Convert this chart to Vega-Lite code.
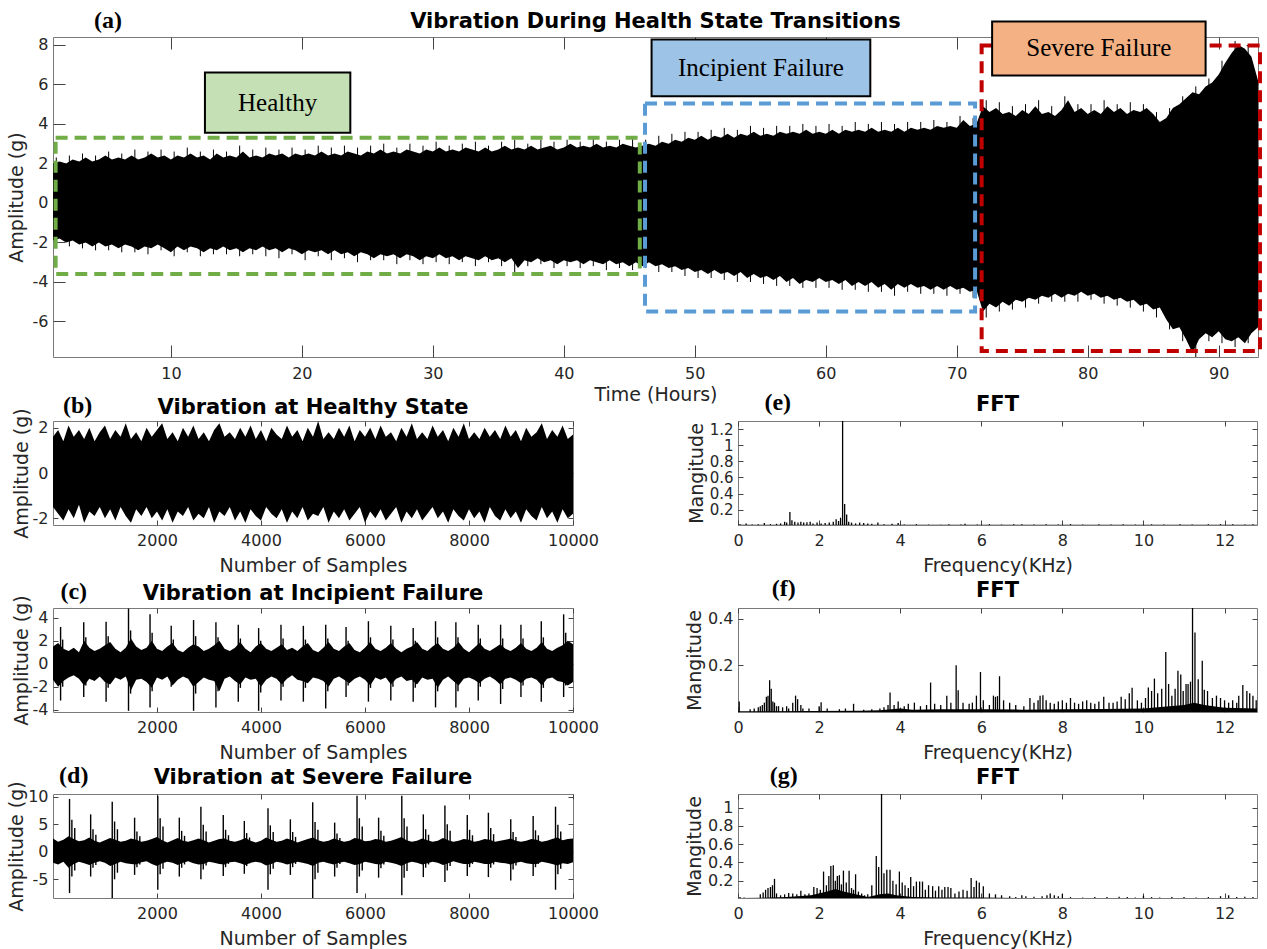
{
"$schema": "https://vega.github.io/schema/vega-lite/v6.json",
"background": "white",
"padding": {"left": 6, "top": 8, "right": 5, "bottom": 5},
"config": {
  "font": "DejaVu Sans",
  "view": {"stroke": "#7a7a7a", "strokeWidth": 1},
  "axis": {"domain": false, "grid": false, "tickColor": "#444444", "tickWidth": 1, "tickSize": -5, "labelPadding": 10, "labelFont": "DejaVu Sans", "labelFontSize": 16, "labelColor": "#262626", "titleFont": "DejaVu Sans", "titleFontSize": 19, "titleFontWeight": "normal", "titleColor": "#262626", "labelFlush": false, "labelOverlap": false, "titlePadding": 6},
  "title": {"font": "DejaVu Sans", "fontSize": 21, "fontWeight": "bold", "color": "#000000", "anchor": "middle", "frame": "group", "offset": -24}
},
"datasets": {
  "top": [
    {"t":1.0,"hi":2.0,"lo":-1.9},{"t":1.5,"hi":2.1,"lo":-1.8},{"t":2.0,"hi":2.0,"lo":-2.0},{"t":2.5,"hi":2.2,"lo":-1.9},{"t":3.0,"hi":2.1,"lo":-2.1},{"t":3.5,"hi":2.3,"lo":-2.0},{"t":4.0,"hi":2.1,"lo":-2.2},{"t":4.5,"hi":2.2,"lo":-2.0},{"t":5.0,"hi":2.4,"lo":-2.2},{"t":5.5,"hi":2.2,"lo":-2.1},
    {"t":6.0,"hi":2.3,"lo":-2.3},{"t":6.5,"hi":2.2,"lo":-2.1},{"t":7.0,"hi":2.4,"lo":-2.2},{"t":7.5,"hi":2.2,"lo":-2.4},{"t":8.0,"hi":2.3,"lo":-2.2},{"t":8.5,"hi":2.5,"lo":-2.3},{"t":9.0,"hi":2.3,"lo":-2.1},{"t":9.5,"hi":2.4,"lo":-2.3},{"t":10.0,"hi":2.2,"lo":-2.5},{"t":10.5,"hi":2.4,"lo":-2.2},
    {"t":11.0,"hi":2.3,"lo":-2.4},{"t":11.5,"hi":2.5,"lo":-2.2},{"t":12.0,"hi":2.3,"lo":-2.3},{"t":12.5,"hi":2.4,"lo":-2.5},{"t":13.0,"hi":2.2,"lo":-2.3},{"t":13.5,"hi":2.5,"lo":-2.4},{"t":14.0,"hi":2.3,"lo":-2.2},{"t":14.5,"hi":2.4,"lo":-2.4},{"t":15.0,"hi":2.3,"lo":-2.3},{"t":15.5,"hi":2.6,"lo":-2.5},
    {"t":16.0,"hi":2.3,"lo":-2.3},{"t":16.5,"hi":2.4,"lo":-2.4},{"t":17.0,"hi":2.3,"lo":-2.2},{"t":17.5,"hi":2.5,"lo":-2.4},{"t":18.0,"hi":2.4,"lo":-2.3},{"t":18.5,"hi":2.5,"lo":-2.5},{"t":19.0,"hi":2.3,"lo":-2.3},{"t":19.5,"hi":2.5,"lo":-2.4},{"t":20.0,"hi":2.4,"lo":-2.6},{"t":20.5,"hi":2.5,"lo":-2.4},
    {"t":21.0,"hi":2.4,"lo":-2.5},{"t":21.5,"hi":2.6,"lo":-2.4},{"t":22.0,"hi":2.4,"lo":-2.6},{"t":22.5,"hi":2.5,"lo":-2.4},{"t":23.0,"hi":2.4,"lo":-2.6},{"t":23.5,"hi":2.6,"lo":-2.5},{"t":24.0,"hi":2.5,"lo":-2.7},{"t":24.5,"hi":2.4,"lo":-2.5},{"t":25.0,"hi":2.6,"lo":-2.6},{"t":25.5,"hi":2.5,"lo":-2.8},
    {"t":26.0,"hi":2.7,"lo":-2.6},{"t":26.5,"hi":2.5,"lo":-2.7},{"t":27.0,"hi":2.6,"lo":-2.6},{"t":27.5,"hi":2.5,"lo":-2.8},{"t":28.0,"hi":2.7,"lo":-2.6},{"t":28.5,"hi":2.6,"lo":-2.7},{"t":29.0,"hi":2.5,"lo":-2.9},{"t":29.5,"hi":2.7,"lo":-2.7},{"t":30.0,"hi":2.6,"lo":-2.8},{"t":30.5,"hi":2.8,"lo":-2.6},
    {"t":31.0,"hi":2.6,"lo":-2.8},{"t":31.5,"hi":2.7,"lo":-2.7},{"t":32.0,"hi":2.6,"lo":-2.9},{"t":32.5,"hi":2.8,"lo":-2.7},{"t":33.0,"hi":2.7,"lo":-2.8},{"t":33.5,"hi":2.6,"lo":-2.9},{"t":34.0,"hi":2.8,"lo":-2.7},{"t":34.5,"hi":2.6,"lo":-2.9},{"t":35.0,"hi":2.7,"lo":-2.8},{"t":35.5,"hi":2.9,"lo":-3.0},
    {"t":36.0,"hi":2.7,"lo":-2.8},{"t":36.5,"hi":2.8,"lo":-3.3},{"t":37.0,"hi":2.7,"lo":-2.9},{"t":37.5,"hi":2.9,"lo":-3.0},{"t":38.0,"hi":2.7,"lo":-2.8},{"t":38.5,"hi":2.8,"lo":-3.0},{"t":39.0,"hi":2.9,"lo":-2.9},{"t":39.5,"hi":2.7,"lo":-3.1},{"t":40.0,"hi":2.8,"lo":-2.9},{"t":40.5,"hi":3.0,"lo":-3.0},
    {"t":41.0,"hi":2.8,"lo":-2.9},{"t":41.5,"hi":2.9,"lo":-3.1},{"t":42.0,"hi":2.8,"lo":-2.9},{"t":42.5,"hi":3.0,"lo":-3.0},{"t":43.0,"hi":2.8,"lo":-3.1},{"t":43.5,"hi":2.9,"lo":-2.9},{"t":44.0,"hi":2.8,"lo":-3.1},{"t":44.5,"hi":3.0,"lo":-3.0},{"t":45.0,"hi":2.9,"lo":-3.2},{"t":45.5,"hi":2.8,"lo":-3.0},
    {"t":46.0,"hi":2.9,"lo":-3.2},{"t":46.5,"hi":3.0,"lo":-3.0},{"t":47.0,"hi":2.9,"lo":-3.2},{"t":47.5,"hi":3.1,"lo":-3.1},{"t":48.0,"hi":3.0,"lo":-3.3},{"t":48.5,"hi":3.2,"lo":-3.2},{"t":49.0,"hi":3.1,"lo":-3.4},{"t":49.5,"hi":3.3,"lo":-3.3},{"t":50.0,"hi":3.2,"lo":-3.5},{"t":50.5,"hi":3.4,"lo":-3.4},
    {"t":51.0,"hi":3.2,"lo":-3.6},{"t":51.5,"hi":3.4,"lo":-3.4},{"t":52.0,"hi":3.3,"lo":-3.6},{"t":52.5,"hi":3.5,"lo":-3.5},{"t":53.0,"hi":3.3,"lo":-3.7},{"t":53.5,"hi":3.5,"lo":-3.5},{"t":54.0,"hi":3.4,"lo":-3.8},{"t":54.5,"hi":3.6,"lo":-3.6},{"t":55.0,"hi":3.4,"lo":-3.8},{"t":55.5,"hi":3.5,"lo":-3.7},
    {"t":56.0,"hi":3.4,"lo":-3.9},{"t":56.5,"hi":3.6,"lo":-3.7},{"t":57.0,"hi":3.5,"lo":-4.0},{"t":57.5,"hi":3.6,"lo":-3.8},{"t":58.0,"hi":3.5,"lo":-4.1},{"t":58.5,"hi":3.7,"lo":-3.9},{"t":59.0,"hi":3.5,"lo":-4.0},{"t":59.5,"hi":3.6,"lo":-3.8},{"t":60.0,"hi":3.5,"lo":-4.0},{"t":60.5,"hi":3.7,"lo":-3.9},
    {"t":61.0,"hi":3.5,"lo":-4.1},{"t":61.5,"hi":3.7,"lo":-3.9},{"t":62.0,"hi":3.6,"lo":-4.2},{"t":62.5,"hi":3.7,"lo":-4.0},{"t":63.0,"hi":3.6,"lo":-4.2},{"t":63.5,"hi":3.8,"lo":-4.0},{"t":64.0,"hi":3.6,"lo":-4.3},{"t":64.5,"hi":3.7,"lo":-4.1},{"t":65.0,"hi":3.6,"lo":-4.4},{"t":65.5,"hi":3.8,"lo":-4.1},
    {"t":66.0,"hi":3.6,"lo":-4.3},{"t":66.5,"hi":3.8,"lo":-4.1},{"t":67.0,"hi":3.7,"lo":-4.3},{"t":67.5,"hi":3.8,"lo":-4.2},{"t":68.0,"hi":3.7,"lo":-4.4},{"t":68.5,"hi":3.9,"lo":-4.2},{"t":69.0,"hi":3.8,"lo":-4.4},{"t":69.5,"hi":3.9,"lo":-4.2},{"t":70.0,"hi":3.8,"lo":-4.4},{"t":70.5,"hi":4.2,"lo":-4.3},
    {"t":71.0,"hi":3.9,"lo":-4.5},{"t":71.5,"hi":4.0,"lo":-4.4},{"t":72.0,"hi":4.9,"lo":-5.5},{"t":72.5,"hi":4.6,"lo":-5.1},{"t":73.0,"hi":4.8,"lo":-5.3},{"t":73.5,"hi":4.5,"lo":-5.0},{"t":74.0,"hi":4.6,"lo":-5.2},{"t":74.5,"hi":4.4,"lo":-4.9},{"t":75.0,"hi":4.7,"lo":-5.0},{"t":75.5,"hi":4.5,"lo":-4.8},
    {"t":76.0,"hi":4.9,"lo":-4.9},{"t":76.5,"hi":4.5,"lo":-4.7},{"t":77.0,"hi":4.6,"lo":-4.8},{"t":77.5,"hi":4.4,"lo":-4.6},{"t":78.0,"hi":4.7,"lo":-4.8},{"t":78.5,"hi":5.2,"lo":-4.6},{"t":79.0,"hi":4.6,"lo":-4.7},{"t":79.5,"hi":4.8,"lo":-4.5},{"t":80.0,"hi":4.5,"lo":-4.7},{"t":80.5,"hi":4.7,"lo":-4.6},
    {"t":81.0,"hi":4.5,"lo":-4.8},{"t":81.5,"hi":4.9,"lo":-4.7},{"t":82.0,"hi":4.6,"lo":-4.9},{"t":82.5,"hi":4.8,"lo":-4.8},{"t":83.0,"hi":4.5,"lo":-5.0},{"t":83.5,"hi":4.7,"lo":-4.9},{"t":84.0,"hi":4.6,"lo":-5.2},{"t":84.5,"hi":4.8,"lo":-5.1},{"t":85.0,"hi":4.5,"lo":-5.4},{"t":85.5,"hi":4.1,"lo":-5.3},
    {"t":86.0,"hi":4.3,"lo":-5.9},{"t":86.5,"hi":4.8,"lo":-6.4},{"t":87.0,"hi":5.0,"lo":-6.3},{"t":87.5,"hi":5.3,"lo":-6.9},{"t":88.0,"hi":5.6,"lo":-7.6},{"t":88.5,"hi":5.5,"lo":-6.9},{"t":89.0,"hi":5.9,"lo":-6.6},{"t":89.5,"hi":6.1,"lo":-6.8},{"t":90.0,"hi":6.5,"lo":-6.5},{"t":90.5,"hi":7.1,"lo":-6.9},
    {"t":91.0,"hi":7.6,"lo":-7.0},{"t":91.5,"hi":8.0,"lo":-6.8},{"t":92.0,"hi":7.8,"lo":-7.1},{"t":92.5,"hi":7.4,"lo":-6.6},{"t":93.0,"hi":6.2,"lo":-6.3}
  ],
  "topSpk": [
    {"t":1.25,"hi":2.3,"lo":-2.1},{"t":2.25,"hi":2.4,"lo":-2.2},{"t":3.25,"hi":2.5,"lo":-2.3},{"t":4.25,"hi":2.4,"lo":-2.4},{"t":5.25,"hi":2.6,"lo":-2.4},{"t":6.25,"hi":2.5,"lo":-2.5},{"t":7.25,"hi":2.7,"lo":-2.5},{"t":8.25,"hi":2.6,"lo":-2.6},{"t":9.25,"hi":2.7,"lo":-2.4},{"t":10.25,"hi":2.6,"lo":-2.7},
    {"t":11.25,"hi":2.8,"lo":-2.5},{"t":12.25,"hi":2.6,"lo":-2.7},{"t":13.25,"hi":2.7,"lo":-2.6},{"t":14.25,"hi":2.6,"lo":-2.6},{"t":15.25,"hi":2.9,"lo":-2.7},{"t":16.25,"hi":2.7,"lo":-2.6},{"t":17.25,"hi":2.8,"lo":-2.7},{"t":18.25,"hi":2.7,"lo":-2.8},{"t":19.25,"hi":2.8,"lo":-2.6},{"t":20.25,"hi":2.7,"lo":-2.9},
    {"t":21.25,"hi":2.9,"lo":-2.7},{"t":22.25,"hi":2.8,"lo":-2.9},{"t":23.25,"hi":2.9,"lo":-2.8},{"t":24.25,"hi":2.8,"lo":-3.0},{"t":25.25,"hi":2.9,"lo":-2.9},{"t":26.25,"hi":3.0,"lo":-2.9},{"t":27.25,"hi":2.8,"lo":-3.1},{"t":28.25,"hi":3.0,"lo":-2.9},{"t":29.25,"hi":2.9,"lo":-3.1},{"t":30.25,"hi":3.1,"lo":-3.0},
    {"t":31.25,"hi":2.9,"lo":-3.1},{"t":32.25,"hi":3.0,"lo":-3.0},{"t":33.25,"hi":3.1,"lo":-3.2},{"t":34.25,"hi":2.9,"lo":-3.0},{"t":35.25,"hi":3.1,"lo":-3.2},{"t":36.25,"hi":3.2,"lo":-3.5},{"t":37.25,"hi":3.0,"lo":-3.2},{"t":38.25,"hi":3.2,"lo":-3.1},{"t":39.25,"hi":3.1,"lo":-3.3},{"t":40.25,"hi":3.2,"lo":-3.2},
    {"t":41.25,"hi":3.1,"lo":-3.3},{"t":42.25,"hi":3.3,"lo":-3.2},{"t":43.25,"hi":3.1,"lo":-3.4},{"t":44.25,"hi":3.2,"lo":-3.3},{"t":45.25,"hi":3.3,"lo":-3.4},{"t":46.25,"hi":3.2,"lo":-3.3},{"t":47.25,"hi":3.4,"lo":-3.5},{"t":48.25,"hi":3.5,"lo":-3.5},{"t":49.25,"hi":3.6,"lo":-3.7},{"t":50.25,"hi":3.6,"lo":-3.8},
    {"t":51.25,"hi":3.7,"lo":-3.8},{"t":52.25,"hi":3.8,"lo":-3.9},{"t":53.25,"hi":3.7,"lo":-4.0},{"t":54.25,"hi":3.9,"lo":-4.0},{"t":55.25,"hi":3.8,"lo":-4.1},{"t":56.25,"hi":3.9,"lo":-4.2},{"t":57.25,"hi":3.9,"lo":-4.2},{"t":58.25,"hi":4.0,"lo":-4.3},{"t":59.25,"hi":3.9,"lo":-4.3},{"t":60.25,"hi":4.0,"lo":-4.3},
    {"t":61.25,"hi":3.9,"lo":-4.4},{"t":62.25,"hi":4.1,"lo":-4.4},{"t":63.25,"hi":4.0,"lo":-4.5},{"t":64.25,"hi":4.1,"lo":-4.5},{"t":65.25,"hi":4.0,"lo":-4.7},{"t":66.25,"hi":4.1,"lo":-4.5},{"t":67.25,"hi":4.1,"lo":-4.6},{"t":68.25,"hi":4.2,"lo":-4.6},{"t":69.25,"hi":4.1,"lo":-4.7},{"t":70.25,"hi":4.4,"lo":-4.6},
    {"t":71.25,"hi":4.3,"lo":-4.8},{"t":72.25,"hi":5.2,"lo":-5.8},{"t":73.25,"hi":5.1,"lo":-5.5},{"t":74.25,"hi":4.9,"lo":-5.4},{"t":75.25,"hi":5.0,"lo":-5.3},{"t":76.25,"hi":5.2,"lo":-5.1},{"t":77.25,"hi":4.9,"lo":-5.0},{"t":78.25,"hi":5.4,"lo":-5.0},{"t":79.25,"hi":5.0,"lo":-5.0},{"t":80.25,"hi":5.0,"lo":-4.9},
    {"t":81.25,"hi":5.2,"lo":-5.1},{"t":82.25,"hi":5.0,"lo":-5.2},{"t":83.25,"hi":5.1,"lo":-5.3},{"t":84.25,"hi":5.0,"lo":-5.5},{"t":85.25,"hi":4.6,"lo":-5.8},{"t":86.25,"hi":4.8,"lo":-6.4},{"t":87.25,"hi":5.4,"lo":-7.0},{"t":88.25,"hi":5.9,"lo":-7.8},{"t":89.25,"hi":6.3,"lo":-7.0},{"t":90.25,"hi":7.2,"lo":-7.1},
    {"t":91.25,"hi":8.2,"lo":-7.3},{"t":92.25,"hi":8.0,"lo":-7.1}
  ],
  "regions": [
    {"state":"Healthy","t0":1.2,"t1":45.8,"a0":-3.6,"a1":3.3},
    {"state":"Incipient Failure","t0":46.2,"t1":71.4,"a0":-5.5,"a1":5.03},
    {"state":"Severe Failure","t0":71.9,"t1":93.15,"a0":-7.5,"a1":7.97}
  ],
  "labels": [
    {"state":"Healthy","t0":12.6,"t1":23.7,"a0":3.55,"a1":6.6,"tc":18.15,"ac":5.08},
    {"state":"Incipient Failure","t0":46.7,"t1":63.4,"a0":5.4,"a1":8.27,"tc":55.05,"ac":6.84},
    {"state":"Severe Failure","t0":72.7,"t1":89.0,"a0":6.45,"a1":9.19,"tc":80.85,"ac":7.82}
  ],
  "sigB": [
    {"n":1,"hi":1.6,"lo":-1.5},{"n":100,"hi":1.9,"lo":-1.8},{"n":200,"hi":1.4,"lo":-2.1},{"n":300,"hi":2.1,"lo":-1.6},{"n":400,"hi":1.6,"lo":-2.0},{"n":500,"hi":1.9,"lo":-1.4},{"n":600,"hi":1.5,"lo":-2.2},{"n":700,"hi":2.0,"lo":-1.7},{"n":800,"hi":1.4,"lo":-1.9},{"n":900,"hi":1.8,"lo":-1.5},
    {"n":1000,"hi":2.1,"lo":-2.0},{"n":1100,"hi":1.5,"lo":-1.6},{"n":1200,"hi":1.9,"lo":-2.1},{"n":1300,"hi":1.6,"lo":-1.5},{"n":1400,"hi":2.2,"lo":-1.9},{"n":1500,"hi":1.5,"lo":-2.2},{"n":1600,"hi":1.8,"lo":-1.6},{"n":1700,"hi":1.4,"lo":-1.9},{"n":1800,"hi":2.0,"lo":-1.5},{"n":1900,"hi":1.6,"lo":-2.0},
    {"n":2000,"hi":1.9,"lo":-1.7},{"n":2100,"hi":2.2,"lo":-2.1},{"n":2200,"hi":1.5,"lo":-1.6},{"n":2300,"hi":1.8,"lo":-2.2},{"n":2400,"hi":1.4,"lo":-1.7},{"n":2500,"hi":2.0,"lo":-1.9},{"n":2600,"hi":1.6,"lo":-1.5},{"n":2700,"hi":2.1,"lo":-2.1},{"n":2800,"hi":1.5,"lo":-1.8},{"n":2900,"hi":1.8,"lo":-2.0},
    {"n":3000,"hi":1.4,"lo":-1.5},{"n":3100,"hi":1.9,"lo":-2.2},{"n":3200,"hi":2.2,"lo":-1.7},{"n":3300,"hi":1.6,"lo":-1.9},{"n":3400,"hi":1.8,"lo":-1.5},{"n":3500,"hi":1.5,"lo":-2.1},{"n":3600,"hi":2.0,"lo":-1.7},{"n":3700,"hi":1.6,"lo":-2.2},{"n":3800,"hi":2.1,"lo":-1.6},{"n":3900,"hi":1.5,"lo":-1.9},
    {"n":4000,"hi":1.9,"lo":-2.1},{"n":4100,"hi":1.4,"lo":-1.5},{"n":4200,"hi":2.0,"lo":-1.8},{"n":4300,"hi":1.7,"lo":-2.0},{"n":4400,"hi":1.5,"lo":-1.6},{"n":4500,"hi":2.1,"lo":-2.2},{"n":4600,"hi":1.6,"lo":-1.7},{"n":4700,"hi":1.9,"lo":-2.0},{"n":4800,"hi":1.4,"lo":-1.5},{"n":4900,"hi":2.0,"lo":-2.1},
    {"n":5000,"hi":1.6,"lo":-1.8},{"n":5100,"hi":2.3,"lo":-1.9},{"n":5200,"hi":1.5,"lo":-1.5},{"n":5300,"hi":1.8,"lo":-2.2},{"n":5400,"hi":1.5,"lo":-1.7},{"n":5500,"hi":2.0,"lo":-2.0},{"n":5600,"hi":1.6,"lo":-1.6},{"n":5700,"hi":2.1,"lo":-2.1},{"n":5800,"hi":1.4,"lo":-1.8},{"n":5900,"hi":1.9,"lo":-1.5},
    {"n":6000,"hi":1.6,"lo":-2.2},{"n":6100,"hi":2.0,"lo":-1.7},{"n":6200,"hi":1.5,"lo":-2.0},{"n":6300,"hi":2.1,"lo":-1.6},{"n":6400,"hi":1.6,"lo":-2.1},{"n":6500,"hi":1.8,"lo":-1.8},{"n":6600,"hi":1.4,"lo":-1.5},{"n":6700,"hi":2.0,"lo":-2.2},{"n":6800,"hi":1.6,"lo":-1.7},{"n":6900,"hi":2.2,"lo":-2.0},
    {"n":7000,"hi":1.5,"lo":-1.6},{"n":7100,"hi":1.8,"lo":-2.1},{"n":7200,"hi":1.5,"lo":-1.8},{"n":7300,"hi":2.1,"lo":-1.5},{"n":7400,"hi":1.6,"lo":-2.0},{"n":7500,"hi":1.9,"lo":-1.7},{"n":7600,"hi":1.4,"lo":-2.2},{"n":7700,"hi":2.0,"lo":-1.6},{"n":7800,"hi":1.6,"lo":-1.9},{"n":7900,"hi":2.2,"lo":-2.1},
    {"n":8000,"hi":1.5,"lo":-1.6},{"n":8100,"hi":1.8,"lo":-2.0},{"n":8200,"hi":1.5,"lo":-1.7},{"n":8300,"hi":2.0,"lo":-2.2},{"n":8400,"hi":1.6,"lo":-1.5},{"n":8500,"hi":1.9,"lo":-1.9},{"n":8600,"hi":1.5,"lo":-2.1},{"n":8700,"hi":2.1,"lo":-1.6},{"n":8800,"hi":1.6,"lo":-2.0},{"n":8900,"hi":1.9,"lo":-1.7},
    {"n":9000,"hi":1.4,"lo":-2.2},{"n":9100,"hi":2.0,"lo":-1.6},{"n":9200,"hi":1.6,"lo":-1.9},{"n":9300,"hi":1.8,"lo":-2.1},{"n":9400,"hi":2.2,"lo":-1.5},{"n":9500,"hi":1.5,"lo":-2.0},{"n":9600,"hi":1.9,"lo":-1.7},{"n":9700,"hi":1.6,"lo":-2.2},{"n":9800,"hi":2.1,"lo":-1.6},{"n":9900,"hi":1.5,"lo":-2.0},
    {"n":10000,"hi":1.7,"lo":-1.8}
  ],
  "sigC": [
    {"n":1,"hi":1.5,"lo":-1.4},{"n":100,"hi":1.8,"lo":-2.0},{"n":200,"hi":1.3,"lo":-1.5},{"n":300,"hi":1.1,"lo":-1.2},{"n":400,"hi":1.4,"lo":-1.0},{"n":500,"hi":1.0,"lo":-1.3},{"n":600,"hi":2.0,"lo":-1.9},{"n":700,"hi":1.4,"lo":-1.3},{"n":800,"hi":1.1,"lo":-1.5},{"n":900,"hi":1.3,"lo":-1.1},
    {"n":1000,"hi":1.6,"lo":-1.6},{"n":1100,"hi":1.9,"lo":-1.8},{"n":1200,"hi":1.3,"lo":-1.2},{"n":1300,"hi":1.0,"lo":-1.4},{"n":1400,"hi":1.4,"lo":-1.1},{"n":1500,"hi":2.2,"lo":-2.3},{"n":1600,"hi":1.5,"lo":-1.4},{"n":1700,"hi":1.2,"lo":-1.3},{"n":1800,"hi":1.4,"lo":-1.6},{"n":1900,"hi":2.0,"lo":-2.1},
    {"n":2000,"hi":1.3,"lo":-1.2},{"n":2100,"hi":1.1,"lo":-1.4},{"n":2200,"hi":1.5,"lo":-1.1},{"n":2300,"hi":1.8,"lo":-1.9},{"n":2400,"hi":1.2,"lo":-1.4},{"n":2500,"hi":1.0,"lo":-1.1},{"n":2600,"hi":1.4,"lo":-1.3},{"n":2700,"hi":1.7,"lo":-2.0},{"n":2800,"hi":1.5,"lo":-1.6},{"n":2900,"hi":1.1,"lo":-1.2},
    {"n":3000,"hi":1.3,"lo":-1.4},{"n":3100,"hi":1.6,"lo":-1.5},{"n":3200,"hi":2.0,"lo":-2.4},{"n":3300,"hi":1.3,"lo":-1.3},{"n":3400,"hi":1.1,"lo":-1.1},{"n":3500,"hi":1.4,"lo":-1.5},{"n":3600,"hi":1.9,"lo":-1.8},{"n":3700,"hi":1.3,"lo":-1.2},{"n":3800,"hi":1.0,"lo":-1.4},{"n":3900,"hi":1.5,"lo":-1.3},
    {"n":4000,"hi":1.8,"lo":-2.0},{"n":4100,"hi":1.3,"lo":-1.4},{"n":4200,"hi":1.1,"lo":-1.1},{"n":4300,"hi":1.4,"lo":-1.3},{"n":4400,"hi":1.7,"lo":-1.8},{"n":4500,"hi":1.2,"lo":-1.3},{"n":4600,"hi":1.4,"lo":-1.0},{"n":4700,"hi":1.1,"lo":-1.4},{"n":4800,"hi":1.5,"lo":-1.5},{"n":4900,"hi":1.8,"lo":-1.7},
    {"n":5000,"hi":1.2,"lo":-1.2},{"n":5100,"hi":1.0,"lo":-1.3},{"n":5200,"hi":1.4,"lo":-1.5},{"n":5300,"hi":1.9,"lo":-2.0},{"n":5400,"hi":1.3,"lo":-1.3},{"n":5500,"hi":1.1,"lo":-1.1},{"n":5600,"hi":1.5,"lo":-1.4},{"n":5700,"hi":1.8,"lo":-1.7},{"n":5800,"hi":1.2,"lo":-1.3},{"n":5900,"hi":1.0,"lo":-1.1},
    {"n":6000,"hi":1.4,"lo":-1.4},{"n":6100,"hi":1.9,"lo":-1.9},{"n":6200,"hi":1.3,"lo":-1.2},{"n":6300,"hi":1.1,"lo":-1.4},{"n":6400,"hi":1.4,"lo":-1.2},{"n":6500,"hi":1.8,"lo":-1.8},{"n":6600,"hi":1.3,"lo":-1.3},{"n":6700,"hi":1.0,"lo":-1.1},{"n":6800,"hi":1.3,"lo":-1.5},{"n":6900,"hi":1.5,"lo":-1.4},
    {"n":7000,"hi":1.9,"lo":-1.8},{"n":7100,"hi":1.3,"lo":-1.2},{"n":7200,"hi":1.1,"lo":-1.4},{"n":7300,"hi":1.5,"lo":-1.3},{"n":7400,"hi":1.8,"lo":-2.1},{"n":7500,"hi":1.3,"lo":-1.4},{"n":7600,"hi":1.1,"lo":-1.1},{"n":7700,"hi":1.4,"lo":-1.5},{"n":7800,"hi":1.9,"lo":-1.9},{"n":7900,"hi":1.3,"lo":-1.3},
    {"n":8000,"hi":1.0,"lo":-1.2},{"n":8100,"hi":1.4,"lo":-1.4},{"n":8200,"hi":1.8,"lo":-1.7},{"n":8300,"hi":1.3,"lo":-1.3},{"n":8400,"hi":1.1,"lo":-1.1},{"n":8500,"hi":1.4,"lo":-1.4},{"n":8600,"hi":1.7,"lo":-1.8},{"n":8700,"hi":1.3,"lo":-1.3},{"n":8800,"hi":1.1,"lo":-1.2},{"n":8900,"hi":1.4,"lo":-1.4},
    {"n":9000,"hi":1.8,"lo":-1.7},{"n":9100,"hi":1.3,"lo":-1.3},{"n":9200,"hi":1.1,"lo":-1.2},{"n":9300,"hi":1.4,"lo":-1.4},{"n":9400,"hi":1.9,"lo":-1.9},{"n":9500,"hi":1.3,"lo":-1.3},{"n":9600,"hi":1.1,"lo":-1.2},{"n":9700,"hi":1.4,"lo":-1.5},{"n":9800,"hi":1.6,"lo":-1.6},{"n":9900,"hi":2.0,"lo":-1.9},
    {"n":10000,"hi":1.7,"lo":-1.6}
  ],
  "spkC": [
    {"n":147,"hi":3.2,"lo":-3.2},{"n":592,"hi":3.6,"lo":-2.9},{"n":1022,"hi":3.65,"lo":-3.3},{"n":1453,"hi":4.8,"lo":-4.1},{"n":1867,"hi":4.3,"lo":-3.8},{"n":2274,"hi":3.3,"lo":-2.0},{"n":2704,"hi":3.8,"lo":-4.1},{"n":3134,"hi":3.6,"lo":-3.8},{"n":3564,"hi":3.4,"lo":-3.3},{"n":3955,"hi":3.1,"lo":-4.1},{"n":4385,"hi":3.4,"lo":-3.2},{"n":4815,"hi":3.3,"lo":-3.3},
    {"n":5245,"hi":3.4,"lo":-3.9},{"n":5636,"hi":3.2,"lo":-2.9},{"n":6066,"hi":3.7,"lo":-3.3},{"n":6497,"hi":3.3,"lo":-3.2},{"n":6927,"hi":3.1,"lo":-3.3},{"n":7357,"hi":3.7,"lo":-3.8},{"n":7748,"hi":3.6,"lo":-3.8},{"n":8178,"hi":3.4,"lo":-3.2},{"n":8608,"hi":3.4,"lo":-3.5},{"n":8999,"hi":3.4,"lo":-2.9},{"n":9390,"hi":3.7,"lo":-3.3},{"n":9820,"hi":4.3,"lo":-2.9},
    {"n":187,"hi":2.1,"lo":-2.0},{"n":632,"hi":2.3,"lo":-1.9},{"n":1062,"hi":2.4,"lo":-2.1},{"n":1493,"hi":2.9,"lo":-2.6},{"n":1907,"hi":2.7,"lo":-2.4},{"n":2314,"hi":2.1,"lo":-1.5},{"n":2744,"hi":2.4,"lo":-2.6},{"n":3174,"hi":2.3,"lo":-2.4},{"n":3604,"hi":2.2,"lo":-2.1},{"n":3995,"hi":2.0,"lo":-2.5},{"n":4425,"hi":2.2,"lo":-2.0},{"n":4855,"hi":2.1,"lo":-2.1},
    {"n":5285,"hi":2.2,"lo":-2.4},{"n":5676,"hi":2.0,"lo":-1.9},{"n":6106,"hi":2.3,"lo":-2.1},{"n":6537,"hi":2.1,"lo":-2.0},{"n":6967,"hi":2.0,"lo":-2.1},{"n":7397,"hi":2.3,"lo":-2.4},{"n":7788,"hi":2.3,"lo":-2.4},{"n":8218,"hi":2.2,"lo":-2.0},{"n":8648,"hi":2.2,"lo":-2.2},{"n":9039,"hi":2.2,"lo":-1.9},{"n":9430,"hi":2.3,"lo":-2.1},{"n":9860,"hi":2.7,"lo":-1.9}
  ],
  "sigD": [
    {"n":1,"hi":2.4,"lo":-2.0},{"n":100,"hi":1.8,"lo":-2.3},{"n":200,"hi":2.2,"lo":-1.8},{"n":300,"hi":2.8,"lo":-2.9},{"n":400,"hi":2.3,"lo":-2.2},{"n":500,"hi":1.9,"lo":-1.8},{"n":600,"hi":2.1,"lo":-2.1},{"n":700,"hi":2.6,"lo":-2.4},{"n":800,"hi":2.0,"lo":-2.0},{"n":900,"hi":1.7,"lo":-1.7},
    {"n":1000,"hi":2.1,"lo":-2.0},{"n":1100,"hi":2.5,"lo":-2.6},{"n":1200,"hi":2.2,"lo":-2.2},{"n":1300,"hi":1.8,"lo":-1.8},{"n":1400,"hi":2.0,"lo":-2.1},{"n":1500,"hi":2.4,"lo":-2.2},{"n":1600,"hi":2.2,"lo":-2.3},{"n":1700,"hi":1.8,"lo":-1.9},{"n":1800,"hi":2.0,"lo":-1.7},{"n":1900,"hi":2.3,"lo":-2.2},
    {"n":2000,"hi":2.7,"lo":-2.6},{"n":2100,"hi":2.1,"lo":-2.1},{"n":2200,"hi":1.7,"lo":-1.8},{"n":2300,"hi":2.1,"lo":-2.0},{"n":2400,"hi":2.5,"lo":-2.4},{"n":2500,"hi":2.0,"lo":-2.0},{"n":2600,"hi":1.8,"lo":-1.7},{"n":2700,"hi":2.1,"lo":-2.1},{"n":2800,"hi":2.4,"lo":-2.3},{"n":2900,"hi":2.1,"lo":-2.2},
    {"n":3000,"hi":1.7,"lo":-1.8},{"n":3100,"hi":2.0,"lo":-2.0},{"n":3200,"hi":2.3,"lo":-2.2},{"n":3300,"hi":2.4,"lo":-2.3},{"n":3400,"hi":2.0,"lo":-1.9},{"n":3500,"hi":1.8,"lo":-1.8},{"n":3600,"hi":2.1,"lo":-2.1},{"n":3700,"hi":2.5,"lo":-2.4},{"n":3800,"hi":2.0,"lo":-2.0},{"n":3900,"hi":1.7,"lo":-1.8},
    {"n":4000,"hi":2.0,"lo":-2.0},{"n":4100,"hi":2.6,"lo":-2.5},{"n":4200,"hi":2.2,"lo":-2.2},{"n":4300,"hi":1.8,"lo":-1.8},{"n":4400,"hi":2.0,"lo":-2.0},{"n":4500,"hi":2.4,"lo":-2.3},{"n":4600,"hi":2.1,"lo":-2.1},{"n":4700,"hi":1.7,"lo":-1.8},{"n":4800,"hi":2.0,"lo":-2.0},{"n":4900,"hi":2.3,"lo":-2.2},
    {"n":5000,"hi":2.6,"lo":-2.6},{"n":5100,"hi":2.1,"lo":-2.0},{"n":5200,"hi":1.8,"lo":-1.8},{"n":5300,"hi":2.0,"lo":-2.1},{"n":5400,"hi":2.4,"lo":-2.3},{"n":5500,"hi":2.1,"lo":-2.0},{"n":5600,"hi":1.8,"lo":-1.8},{"n":5700,"hi":2.0,"lo":-2.1},{"n":5800,"hi":2.5,"lo":-2.4},{"n":5900,"hi":2.3,"lo":-2.2},
    {"n":6000,"hi":1.9,"lo":-1.8},{"n":6100,"hi":2.0,"lo":-2.0},{"n":6200,"hi":2.3,"lo":-2.2},{"n":6300,"hi":2.2,"lo":-2.3},{"n":6400,"hi":1.8,"lo":-1.8},{"n":6500,"hi":2.0,"lo":-2.0},{"n":6600,"hi":2.3,"lo":-2.2},{"n":6700,"hi":2.7,"lo":-2.6},{"n":6800,"hi":2.1,"lo":-2.1},{"n":6900,"hi":1.8,"lo":-1.8},
    {"n":7000,"hi":2.0,"lo":-2.0},{"n":7100,"hi":2.4,"lo":-2.3},{"n":7200,"hi":2.1,"lo":-2.1},{"n":7300,"hi":1.8,"lo":-1.8},{"n":7400,"hi":2.0,"lo":-2.0},{"n":7500,"hi":2.5,"lo":-2.4},{"n":7600,"hi":2.1,"lo":-2.1},{"n":7700,"hi":1.8,"lo":-1.7},{"n":7800,"hi":2.0,"lo":-2.0},{"n":7900,"hi":2.3,"lo":-2.2},
    {"n":8000,"hi":2.2,"lo":-2.2},{"n":8100,"hi":1.8,"lo":-1.8},{"n":8200,"hi":2.0,"lo":-2.0},{"n":8300,"hi":2.3,"lo":-2.2},{"n":8400,"hi":2.2,"lo":-2.2},{"n":8500,"hi":1.8,"lo":-1.8},{"n":8600,"hi":2.0,"lo":-2.0},{"n":8700,"hi":2.2,"lo":-2.1},{"n":8800,"hi":2.4,"lo":-2.3},{"n":8900,"hi":2.0,"lo":-2.0},
    {"n":9000,"hi":1.8,"lo":-1.8},{"n":9100,"hi":2.0,"lo":-2.1},{"n":9200,"hi":2.3,"lo":-2.2},{"n":9300,"hi":2.2,"lo":-2.2},{"n":9400,"hi":1.8,"lo":-1.8},{"n":9500,"hi":2.0,"lo":-2.0},{"n":9600,"hi":2.3,"lo":-2.2},{"n":9700,"hi":2.6,"lo":-2.5},{"n":9800,"hi":2.1,"lo":-2.1},{"n":9900,"hi":2.3,"lo":-2.2},
    {"n":10000,"hi":2.4,"lo":-1.9}
  ],
  "spkD": [
    {"n":319,"hi":9.6,"lo":-7.5},{"n":364,"hi":5.8,"lo":-4.5},{"n":419,"hi":4.3,"lo":-3.4},
    {"n":725,"hi":6.8,"lo":-4.5},{"n":770,"hi":4.1,"lo":-2.9},{"n":825,"hi":3.1,"lo":-2.4},
    {"n":1140,"hi":9.1,"lo":-8.4},{"n":1185,"hi":5.5,"lo":-5.0},{"n":1240,"hi":4.1,"lo":-3.8},
    {"n":1570,"hi":6.2,"lo":-4.2},{"n":1615,"hi":3.7,"lo":-2.8},{"n":1670,"hi":2.8,"lo":-2.3},
    {"n":2016,"hi":10.2,"lo":-6.9},{"n":2061,"hi":6.1,"lo":-4.1},{"n":2116,"hi":4.6,"lo":-3.1},
    {"n":2430,"hi":6.2,"lo":-4.5},{"n":2475,"hi":3.8,"lo":-2.9},{"n":2530,"hi":2.9,"lo":-2.3},
    {"n":2845,"hi":8.2,"lo":-5.0},{"n":2890,"hi":4.9,"lo":-3.2},{"n":2945,"hi":3.7,"lo":-2.5},
    {"n":3275,"hi":6.7,"lo":-4.4},{"n":3320,"hi":4.0,"lo":-2.8},{"n":3375,"hi":3.0,"lo":-2.2},
    {"n":3680,"hi":5.6,"lo":-4.0},{"n":3725,"hi":3.4,"lo":-2.6},{"n":3780,"hi":2.6,"lo":-2.1},
    {"n":4135,"hi":7.9,"lo":-6.9},{"n":4180,"hi":4.8,"lo":-4.1},{"n":4235,"hi":3.6,"lo":-3.1},
    {"n":4565,"hi":5.9,"lo":-4.2},{"n":4610,"hi":3.6,"lo":-2.8},{"n":4665,"hi":2.7,"lo":-2.2},
    {"n":4995,"hi":9.0,"lo":-8.4},{"n":5040,"hi":5.4,"lo":-5.0},{"n":5095,"hi":4.0,"lo":-3.8},
    {"n":5417,"hi":5.3,"lo":-4.5},{"n":5462,"hi":3.3,"lo":-2.9},{"n":5517,"hi":2.5,"lo":-2.2},
    {"n":5847,"hi":10.2,"lo":-7.5},{"n":5892,"hi":6.1,"lo":-4.5},{"n":5947,"hi":4.6,"lo":-3.4},
    {"n":6262,"hi":6.2,"lo":-4.7},{"n":6307,"hi":3.8,"lo":-3.0},{"n":6362,"hi":2.9,"lo":-2.3},
    {"n":6708,"hi":10.2,"lo":-7.9},{"n":6753,"hi":6.1,"lo":-4.7},{"n":6808,"hi":4.6,"lo":-3.5},
    {"n":7122,"hi":6.8,"lo":-4.6},{"n":7167,"hi":4.1,"lo":-2.9},{"n":7222,"hi":3.1,"lo":-2.3},
    {"n":7537,"hi":8.4,"lo":-5.5},{"n":7582,"hi":5.0,"lo":-3.4},{"n":7637,"hi":3.8,"lo":-2.6},
    {"n":7967,"hi":6.7,"lo":-4.4},{"n":8012,"hi":4.0,"lo":-2.8},{"n":8067,"hi":3.0,"lo":-2.2},
    {"n":8373,"hi":7.1,"lo":-4.6},{"n":8418,"hi":4.3,"lo":-2.9},{"n":8473,"hi":3.2,"lo":-2.3},
    {"n":8803,"hi":5.9,"lo":-5.2},{"n":8848,"hi":3.6,"lo":-3.2},{"n":8903,"hi":2.7,"lo":-2.5},
    {"n":9234,"hi":6.5,"lo":-4.4},{"n":9279,"hi":3.9,"lo":-2.8},{"n":9334,"hi":3.0,"lo":-2.2},
    {"n":9664,"hi":8.2,"lo":-6.9},{"n":9709,"hi":4.9,"lo":-4.1},{"n":9764,"hi":3.7,"lo":-3.1}
  ],
  "floorE": [{"f":0,"m":0.013},{"f":12.8,"m":0.013}],
  "fftE": [
    {"f":0.05,"m":0.02},{"f":0.2,"m":0.03},{"f":0.35,"m":0.015},{"f":0.5,"m":0.02},{"f":0.65,"m":0.035},{"f":0.8,"m":0.02},{"f":0.95,"m":0.025},{"f":1.05,"m":0.03},{"f":1.15,"m":0.05},{"f":1.2,"m":0.04},
    {"f":1.28,"m":0.17},{"f":1.33,"m":0.07},{"f":1.4,"m":0.05},{"f":1.48,"m":0.04},{"f":1.55,"m":0.05},{"f":1.62,"m":0.04},{"f":1.7,"m":0.045},{"f":1.78,"m":0.05},{"f":1.85,"m":0.03},{"f":1.95,"m":0.04},
    {"f":2.05,"m":0.03},{"f":2.15,"m":0.035},{"f":2.25,"m":0.04},{"f":2.35,"m":0.05},{"f":2.42,"m":0.08},{"f":2.48,"m":0.06},{"f":2.53,"m":0.1},{"f":2.58,"m":1.3},{"f":2.63,"m":0.27},{"f":2.68,"m":0.14},
    {"f":2.73,"m":0.05},{"f":2.8,"m":0.04},{"f":2.9,"m":0.03},{"f":3.0,"m":0.04},{"f":3.1,"m":0.035},{"f":3.2,"m":0.03},{"f":3.3,"m":0.025},{"f":3.45,"m":0.04},{"f":3.6,"m":0.02},{"f":3.8,"m":0.025},
    {"f":3.95,"m":0.035},{"f":4.1,"m":0.015},{"f":4.4,"m":0.02},{"f":4.7,"m":0.015},{"f":5.0,"m":0.012},{"f":5.2,"m":0.02},{"f":5.5,"m":0.015},{"f":5.6,"m":0.025},{"f":5.9,"m":0.015},{"f":6.2,"m":0.02},
    {"f":6.5,"m":0.015},{"f":6.8,"m":0.018},{"f":7.0,"m":0.02},{"f":7.3,"m":0.015},{"f":7.6,"m":0.02},{"f":7.9,"m":0.015},{"f":8.2,"m":0.02},{"f":8.5,"m":0.015},{"f":8.9,"m":0.018},{"f":9.2,"m":0.015},
    {"f":9.5,"m":0.02},{"f":9.8,"m":0.015},{"f":10.2,"m":0.018},{"f":10.5,"m":0.015},{"f":10.9,"m":0.02},{"f":11.2,"m":0.015},{"f":11.6,"m":0.018},{"f":11.9,"m":0.02},{"f":12.2,"m":0.02},{"f":12.5,"m":0.015},{"f":12.7,"m":0.02}
  ],
  "floorF": [{"f":0,"m":0.003},{"f":3.0,"m":0.005},{"f":3.5,"m":0.008},{"f":4.0,"m":0.015},{"f":4.3,"m":0.01},{"f":5.0,"m":0.012},{"f":6.0,"m":0.012},{"f":7.0,"m":0.01},{"f":8.0,"m":0.012},{"f":9.0,"m":0.013},{"f":10.0,"m":0.015},{"f":10.5,"m":0.022},{"f":11.0,"m":0.03},{"f":11.25,"m":0.04},{"f":11.5,"m":0.03},{"f":12.0,"m":0.018},{"f":12.8,"m":0.015}],
  "fftF": [
    {"f":0.03,"m":0.045},{"f":0.3,"m":0.012},{"f":0.4,"m":0.015},{"f":0.5,"m":0.02},{"f":0.55,"m":0.025},{"f":0.6,"m":0.03},{"f":0.65,"m":0.04},{"f":0.7,"m":0.065},{"f":0.74,"m":0.07},{"f":0.78,"m":0.136},
    {"f":0.82,"m":0.1},{"f":0.86,"m":0.045},{"f":0.9,"m":0.04},{"f":0.95,"m":0.025},{"f":1.0,"m":0.025},{"f":1.1,"m":0.02},{"f":1.2,"m":0.025},{"f":1.25,"m":0.015},{"f":1.35,"m":0.04},{"f":1.42,"m":0.07},
    {"f":1.47,"m":0.055},{"f":1.55,"m":0.03},{"f":1.6,"m":0.015},{"f":1.75,"m":0.015},{"f":2.0,"m":0.025},{"f":2.05,"m":0.042},{"f":2.2,"m":0.015},{"f":2.5,"m":0.012},{"f":2.65,"m":0.015},{"f":2.85,"m":0.035},
    {"f":3.1,"m":0.01},{"f":3.3,"m":0.012},{"f":3.5,"m":0.015},{"f":3.6,"m":0.02},{"f":3.7,"m":0.03},{"f":3.75,"m":0.083},{"f":3.85,"m":0.03},{"f":3.95,"m":0.045},{"f":4.1,"m":0.025},{"f":4.2,"m":0.035},
    {"f":4.35,"m":0.04},{"f":4.5,"m":0.025},{"f":4.65,"m":0.03},{"f":4.75,"m":0.126},{"f":4.85,"m":0.035},{"f":5.0,"m":0.03},{"f":5.15,"m":0.07},{"f":5.25,"m":0.04},{"f":5.38,"m":0.2},{"f":5.43,"m":0.093},
    {"f":5.55,"m":0.04},{"f":5.7,"m":0.035},{"f":5.78,"m":0.04},{"f":5.88,"m":0.07},{"f":5.98,"m":0.171},{"f":6.05,"m":0.05},{"f":6.2,"m":0.03},{"f":6.3,"m":0.07},{"f":6.35,"m":0.065},{"f":6.4,"m":0.068},
    {"f":6.45,"m":0.153},{"f":6.55,"m":0.05},{"f":6.7,"m":0.04},{"f":6.85,"m":0.03},{"f":7.05,"m":0.025},{"f":7.2,"m":0.06},{"f":7.3,"m":0.04},{"f":7.4,"m":0.05},{"f":7.45,"m":0.07},{"f":7.52,"m":0.072},
    {"f":7.6,"m":0.05},{"f":7.7,"m":0.04},{"f":7.8,"m":0.035},{"f":7.9,"m":0.045},{"f":8.0,"m":0.05},{"f":8.1,"m":0.04},{"f":8.2,"m":0.06},{"f":8.3,"m":0.04},{"f":8.4,"m":0.035},{"f":8.5,"m":0.045},
    {"f":8.6,"m":0.05},{"f":8.7,"m":0.04},{"f":8.8,"m":0.035},{"f":8.9,"m":0.045},{"f":9.02,"m":0.065},{"f":9.15,"m":0.04},{"f":9.25,"m":0.04},{"f":9.35,"m":0.045},{"f":9.45,"m":0.065},{"f":9.55,"m":0.055},
    {"f":9.65,"m":0.08},{"f":9.72,"m":0.104},{"f":9.85,"m":0.05},{"f":9.95,"m":0.04},{"f":10.05,"m":0.06},{"f":10.12,"m":0.105},{"f":10.2,"m":0.09},{"f":10.27,"m":0.143},{"f":10.35,"m":0.08},{"f":10.45,"m":0.1},
    {"f":10.55,"m":0.257},{"f":10.62,"m":0.12},{"f":10.7,"m":0.07},{"f":10.78,"m":0.1},{"f":10.85,"m":0.176},{"f":10.92,"m":0.16},{"f":10.98,"m":0.09},{"f":11.05,"m":0.12},{"f":11.1,"m":0.12},{"f":11.16,"m":0.13},
    {"f":11.21,"m":0.445},{"f":11.27,"m":0.34},{"f":11.35,"m":0.14},{"f":11.45,"m":0.219},{"f":11.5,"m":0.095},{"f":11.58,"m":0.09},{"f":11.7,"m":0.06},{"f":11.8,"m":0.07},{"f":11.9,"m":0.06},{"f":12.0,"m":0.05},
    {"f":12.1,"m":0.04},{"f":12.2,"m":0.05},{"f":12.3,"m":0.04},{"f":12.35,"m":0.07},{"f":12.45,"m":0.115},{"f":12.55,"m":0.09},{"f":12.62,"m":0.08},{"f":12.7,"m":0.07},{"f":12.78,"m":0.05}
  ],
  "floorG": [{"f":0,"m":0.01},{"f":0.6,"m":0.012},{"f":1.2,"m":0.02},{"f":1.8,"m":0.04},{"f":2.2,"m":0.08},{"f":2.4,"m":0.11},{"f":2.6,"m":0.08},{"f":2.9,"m":0.05},{"f":3.2,"m":0.02},{"f":3.5,"m":0.05},{"f":3.7,"m":0.06},{"f":3.9,"m":0.04},{"f":4.3,"m":0.02},{"f":5.0,"m":0.015},{"f":6.0,"m":0.015},{"f":7.0,"m":0.01},{"f":12.8,"m":0.01}],
  "fftG": [
    {"f":0.05,"m":0.02},{"f":0.15,"m":0.015},{"f":0.3,"m":0.01},{"f":0.55,"m":0.05},{"f":0.62,"m":0.07},{"f":0.68,"m":0.1},{"f":0.74,"m":0.12},{"f":0.8,"m":0.13},{"f":0.85,"m":0.15},{"f":0.9,"m":0.22},
    {"f":0.95,"m":0.06},{"f":1.05,"m":0.04},{"f":1.15,"m":0.05},{"f":1.25,"m":0.065},{"f":1.35,"m":0.06},{"f":1.45,"m":0.05},{"f":1.55,"m":0.09},{"f":1.65,"m":0.05},{"f":1.75,"m":0.06},{"f":1.87,"m":0.13},
    {"f":1.95,"m":0.12},{"f":2.03,"m":0.1},{"f":2.11,"m":0.3},{"f":2.18,"m":0.15},{"f":2.24,"m":0.25},{"f":2.29,"m":0.36},{"f":2.35,"m":0.37},{"f":2.4,"m":0.2},{"f":2.45,"m":0.25},{"f":2.5,"m":0.26},
    {"f":2.55,"m":0.16},{"f":2.6,"m":0.31},{"f":2.67,"m":0.18},{"f":2.74,"m":0.31},{"f":2.8,"m":0.12},{"f":2.85,"m":0.1},{"f":2.9,"m":0.27},{"f":2.97,"m":0.08},{"f":3.05,"m":0.06},{"f":3.12,"m":0.04},
    {"f":3.2,"m":0.05},{"f":3.3,"m":0.15},{"f":3.41,"m":0.47},{"f":3.47,"m":0.35},{"f":3.54,"m":1.15},{"f":3.6,"m":0.28},{"f":3.67,"m":0.32},{"f":3.75,"m":0.32},{"f":3.82,"m":0.2},{"f":3.9,"m":0.16},
    {"f":3.98,"m":0.3},{"f":4.05,"m":0.18},{"f":4.12,"m":0.15},{"f":4.2,"m":0.12},{"f":4.26,"m":0.24},{"f":4.33,"m":0.14},{"f":4.4,"m":0.19},{"f":4.48,"m":0.19},{"f":4.55,"m":0.19},{"f":4.62,"m":0.1},
    {"f":4.7,"m":0.15},{"f":4.8,"m":0.14},{"f":4.87,"m":0.09},{"f":4.95,"m":0.14},{"f":5.03,"m":0.1},{"f":5.1,"m":0.13},{"f":5.18,"m":0.13},{"f":5.25,"m":0.12},{"f":5.35,"m":0.06},{"f":5.45,"m":0.08},
    {"f":5.55,"m":0.1},{"f":5.65,"m":0.09},{"f":5.75,"m":0.23},{"f":5.82,"m":0.13},{"f":5.88,"m":0.2},{"f":5.95,"m":0.18},{"f":6.05,"m":0.14},{"f":6.2,"m":0.06},{"f":6.35,"m":0.05},{"f":6.5,"m":0.04},
    {"f":6.7,"m":0.03},{"f":6.85,"m":0.02},{"f":7.0,"m":0.04},{"f":7.1,"m":0.03},{"f":7.3,"m":0.025},{"f":7.5,"m":0.03},{"f":7.62,"m":0.04},{"f":7.7,"m":0.06},{"f":7.8,"m":0.04},{"f":7.9,"m":0.03},
    {"f":8.0,"m":0.055},{"f":8.2,"m":0.02},{"f":8.5,"m":0.015},{"f":8.8,"m":0.02},{"f":9.1,"m":0.02},{"f":9.4,"m":0.025},{"f":9.6,"m":0.02},{"f":9.8,"m":0.015},{"f":10.0,"m":0.035},{"f":10.2,"m":0.02},
    {"f":10.4,"m":0.015},{"f":10.7,"m":0.02},{"f":11.0,"m":0.02},{"f":11.3,"m":0.015},{"f":11.6,"m":0.02},{"f":11.9,"m":0.03},{"f":12.1,"m":0.04},{"f":12.3,"m":0.02},{"f":12.5,"m":0.025},{"f":12.7,"m":0.02}
  ]
},
"spacing": -15,
"vconcat": [
  {
    "width": 1205, "height": 320,
    "title": {"text": "Vibration During Health State Transitions", "offset": -23},
    "layer": [
      {"data": {"name": "top"},
       "mark": {"type": "area", "color": "black", "clip": true},
       "encoding": {
         "x": {"field": "t", "type": "quantitative", "scale": {"domain": [1, 93], "nice": false, "zero": false},
               "axis": {"orient": "bottom", "values": [10,20,30,40,50,60,70,80,90], "title": "Time (Hours)", "tickSize": -12, "labelPadding": 20, "titlePadding": 4, "labelExpr": "'' + datum.value"}},
         "y": {"field": "hi", "type": "quantitative", "scale": {"domain": [-7.8, 8.4], "nice": false, "zero": false},
               "axis": {"orient": "left", "values": [-6,-4,-2,0,2,4,6,8], "title": "Amplitude (g)", "tickSize": -12, "labelPadding": 17, "labelExpr": "'' + datum.value"}},
         "y2": {"field": "lo"}
       }},
      {"data": {"name": "topSpk"},
       "mark": {"type": "rule", "color": "black", "clip": true, "strokeWidth": 1},
       "encoding": {
         "x": {"field": "t", "type": "quantitative", "axis": null},
         "y": {"field": "hi", "type": "quantitative", "axis": null},
         "y2": {"field": "lo"}
       }},
      {"data": {"name": "regions"},
       "mark": {"type": "rect", "fillOpacity": 0, "strokeWidth": 4, "strokeDash": [12, 7]},
       "encoding": {
         "x": {"field": "t0", "type": "quantitative", "axis": null}, "x2": {"field": "t1"},
         "y": {"field": "a0", "type": "quantitative", "axis": null}, "y2": {"field": "a1"},
         "stroke": {"field": "state", "type": "nominal", "legend": null, "scale": {"domain": ["Healthy", "Incipient Failure", "Severe Failure"], "range": ["#70AD47", "#5B9BD5", "#C00000"]}}
       }},
      {"data": {"name": "labels"},
       "mark": {"type": "rect", "stroke": "black", "strokeWidth": 2, "opacity": 1},
       "encoding": {
         "x": {"field": "t0", "type": "quantitative", "axis": null}, "x2": {"field": "t1"},
         "y": {"field": "a0", "type": "quantitative", "axis": null}, "y2": {"field": "a1"},
         "fill": {"field": "state", "type": "nominal", "legend": null, "scale": {"domain": ["Healthy", "Incipient Failure", "Severe Failure"], "range": ["#C5E0B4", "#9DC3E6", "#F4B183"]}}
       }},
      {"data": {"name": "labels"},
       "mark": {"type": "text", "font": "Liberation Serif", "fontSize": 25, "color": "black", "baseline": "middle"},
       "encoding": {
         "x": {"field": "tc", "type": "quantitative", "axis": null},
         "y": {"field": "ac", "type": "quantitative", "axis": null},
         "text": {"field": "state", "type": "nominal"}
       }},
      {"data": {"values": [{}]},
       "mark": {"type": "text", "font": "Liberation Serif", "fontSize": 24, "fontWeight": "bold", "color": "black", "baseline": "middle"},
       "encoding": {
         "x": {"datum": 5.2, "type": "quantitative", "axis": {"orient": "top", "values": [10,20,30,40,50,60,70,80,90], "labels": false, "title": null, "tickSize": -12}},
         "y": {"datum": 9.2, "type": "quantitative", "axis": {"orient": "right", "values": [-6,-4,-2,0,2,4,6,8], "labels": false, "title": null, "tickSize": -12}},
         "text": {"value": "(a)"}
       }}
    ]
  },
  {
    "spacing": 0,
    "vconcat": [
      {
        "spacing": 165, "bounds": "flush",
        "hconcat": [
          {
            "width": 520, "height": 104,
            "title": {"text": "Vibration at Healthy State"},
            "layer": [
              {"data": {"name": "sigB"},
               "mark": {"type": "area", "color": "black", "clip": true},
               "encoding": {
                 "x": {"field": "n", "type": "quantitative", "scale": {"domain": [1, 10000], "nice": false, "zero": false}, "axis": {"orient": "bottom", "values": [2000,4000,6000,8000,10000], "title": "Number of Samples", "labelPadding": 12, "titlePadding": 8, "labelExpr": "'' + datum.value"}},
                 "y": {"field": "hi", "type": "quantitative", "scale": {"domain": [-2.3, 2.3], "nice": false, "zero": false}, "axis": {"orient": "left", "values": [-2,0,2], "title": "Amplitude (g)", "titlePadding": 1, "labelExpr": "'' + datum.value"}},
                 "y2": {"field": "lo"}
               }},
              {"data": {"values": [{}]},
               "mark": {"type": "text", "font": "Liberation Serif", "fontSize": 24, "fontWeight": "bold", "color": "black", "baseline": "middle"},
               "encoding": {
                 "x": {"datum": 475, "type": "quantitative", "axis": {"orient": "top", "values": [2000,4000,6000,8000,10000], "labels": false, "title": null}},
                 "y": {"datum": 2.96, "type": "quantitative", "axis": {"orient": "right", "values": [-2,0,2], "labels": false, "title": null}},
                 "text": {"value": "(b)"}
               }}
            ]
          },
          {
            "width": 519, "height": 104,
            "title": {"text": "FFT"},
            "layer": [
              {"data": {"name": "floorE"},
               "mark": {"type": "area", "color": "black", "clip": true},
               "encoding": {
                 "x": {"field": "f", "type": "quantitative", "scale": {"domain": [0, 12.8], "nice": false, "zero": false}, "axis": {"orient": "bottom", "values": [0,2,4,6,8,10,12], "title": "Frequency(KHz)", "labelPadding": 12, "titlePadding": 8, "labelExpr": "'' + datum.value"}},
                 "y": {"field": "m", "type": "quantitative", "scale": {"domain": [0.01, 1.3], "nice": false, "zero": false}, "axis": {"orient": "left", "values": [0.2,0.4,0.6,0.8,1,1.2], "title": "Mangitude", "titlePadding": 3, "labelFontSize": 15, "labelExpr": "'' + datum.value"}},
                 "y2": {"datum": 0}
               }},
              {"data": {"name": "fftE"},
               "mark": {"type": "rule", "color": "black", "clip": true, "strokeWidth": 1.3},
               "encoding": {
                 "x": {"field": "f", "type": "quantitative", "axis": null},
                 "y": {"field": "m", "type": "quantitative", "axis": null},
                 "y2": {"datum": 0}
               }},
              {"data": {"values": [{}]},
               "mark": {"type": "text", "font": "Liberation Serif", "fontSize": 24, "fontWeight": "bold", "color": "black", "baseline": "middle"},
               "encoding": {
                 "x": {"datum": 0.98, "type": "quantitative", "axis": {"orient": "top", "values": [0,2,4,6,8,10,12], "labels": false, "title": null}},
                 "y": {"datum": 1.52, "type": "quantitative", "axis": {"orient": "right", "values": [0.2,0.4,0.6,0.8,1,1.2], "labels": false, "title": null}},
                 "text": {"value": "(e)"}
               }}
            ]
          }
        ]
      },
      {
        "spacing": 165, "bounds": "flush",
        "hconcat": [
          {
            "width": 520, "height": 104,
            "title": {"text": "Vibration at Incipient Failure"},
            "layer": [
              {"data": {"name": "sigC"},
               "mark": {"type": "area", "color": "black", "clip": true},
               "encoding": {
                 "x": {"field": "n", "type": "quantitative", "scale": {"domain": [1, 10000], "nice": false, "zero": false}, "axis": {"orient": "bottom", "values": [2000,4000,6000,8000,10000], "title": "Number of Samples", "labelPadding": 12, "titlePadding": 8, "labelExpr": "'' + datum.value"}},
                 "y": {"field": "hi", "type": "quantitative", "scale": {"domain": [-4.2, 4.85], "nice": false, "zero": false}, "axis": {"orient": "left", "values": [-4,-2,0,2,4], "title": "Amplitude (g)", "titlePadding": 1, "labelExpr": "'' + datum.value"}},
                 "y2": {"field": "lo"}
               }},
              {"data": {"name": "spkC"},
               "mark": {"type": "rule", "color": "black", "clip": true, "strokeWidth": 1.4},
               "encoding": {
                 "x": {"field": "n", "type": "quantitative", "axis": null},
                 "y": {"field": "hi", "type": "quantitative", "axis": null},
                 "y2": {"field": "lo"}
               }},
              {"data": {"values": [{}]},
               "mark": {"type": "text", "font": "Liberation Serif", "fontSize": 24, "fontWeight": "bold", "color": "black", "baseline": "middle"},
               "encoding": {
                 "x": {"datum": 400, "type": "quantitative", "axis": {"orient": "top", "values": [2000,4000,6000,8000,10000], "labels": false, "title": null}},
                 "y": {"datum": 6.24, "type": "quantitative", "axis": {"orient": "right", "values": [-4,-2,0,2,4], "labels": false, "title": null}},
                 "text": {"value": "(c)"}
               }}
            ]
          },
          {
            "width": 519, "height": 104,
            "title": {"text": "FFT"},
            "layer": [
              {"data": {"name": "floorF"},
               "mark": {"type": "area", "color": "black", "clip": true},
               "encoding": {
                 "x": {"field": "f", "type": "quantitative", "scale": {"domain": [0, 12.8], "nice": false, "zero": false}, "axis": {"orient": "bottom", "values": [0,2,4,6,8,10,12], "title": "Frequency(KHz)", "labelPadding": 12, "titlePadding": 8, "labelExpr": "'' + datum.value"}},
                 "y": {"field": "m", "type": "quantitative", "scale": {"domain": [0, 0.445], "nice": false, "zero": false}, "axis": {"orient": "left", "values": [0.2,0.4], "title": "Mangitude", "titlePadding": 3, "labelExpr": "'' + datum.value"}},
                 "y2": {"datum": 0}
               }},
              {"data": {"name": "fftF"},
               "mark": {"type": "rule", "color": "black", "clip": true, "strokeWidth": 1.3},
               "encoding": {
                 "x": {"field": "f", "type": "quantitative", "axis": null},
                 "y": {"field": "m", "type": "quantitative", "axis": null},
                 "y2": {"datum": 0}
               }},
              {"data": {"values": [{}]},
               "mark": {"type": "text", "font": "Liberation Serif", "fontSize": 24, "fontWeight": "bold", "color": "black", "baseline": "middle"},
               "encoding": {
                 "x": {"datum": 1.13, "type": "quantitative", "axis": {"orient": "top", "values": [0,2,4,6,8,10,12], "labels": false, "title": null}},
                 "y": {"datum": 0.526, "type": "quantitative", "axis": {"orient": "right", "values": [0.2,0.4], "labels": false, "title": null}},
                 "text": {"value": "(f)"}
               }}
            ]
          }
        ]
      },
      {
        "spacing": 165, "bounds": "flush",
        "hconcat": [
          {
            "width": 520, "height": 104,
            "title": {"text": "Vibration at Severe Failure"},
            "layer": [
              {"data": {"name": "sigD"},
               "mark": {"type": "area", "color": "black", "clip": true},
               "encoding": {
                 "x": {"field": "n", "type": "quantitative", "scale": {"domain": [1, 10000], "nice": false, "zero": false}, "axis": {"orient": "bottom", "values": [2000,4000,6000,8000,10000], "title": "Number of Samples", "labelPadding": 12, "titlePadding": 8, "labelExpr": "'' + datum.value"}},
                 "y": {"field": "hi", "type": "quantitative", "scale": {"domain": [-8.4, 10.5], "nice": false, "zero": false}, "axis": {"orient": "left", "values": [-5,0,5,10], "title": "Amplitude (g)", "titlePadding": 1, "labelExpr": "'' + datum.value"}},
                 "y2": {"field": "lo"}
               }},
              {"data": {"name": "spkD"},
               "mark": {"type": "rule", "color": "black", "clip": true, "strokeWidth": 1.4},
               "encoding": {
                 "x": {"field": "n", "type": "quantitative", "axis": null},
                 "y": {"field": "hi", "type": "quantitative", "axis": null},
                 "y2": {"field": "lo"}
               }},
              {"data": {"values": [{}]},
               "mark": {"type": "text", "font": "Liberation Serif", "fontSize": 24, "fontWeight": "bold", "color": "black", "baseline": "middle"},
               "encoding": {
                 "x": {"datum": 400, "type": "quantitative", "axis": {"orient": "top", "values": [2000,4000,6000,8000,10000], "labels": false, "title": null}},
                 "y": {"datum": 13.77, "type": "quantitative", "axis": {"orient": "right", "values": [-5,0,5,10], "labels": false, "title": null}},
                 "text": {"value": "(d)"}
               }}
            ]
          },
          {
            "width": 519, "height": 104,
            "title": {"text": "FFT"},
            "layer": [
              {"data": {"name": "floorG"},
               "mark": {"type": "area", "color": "black", "clip": true},
               "encoding": {
                 "x": {"field": "f", "type": "quantitative", "scale": {"domain": [0, 12.8], "nice": false, "zero": false}, "axis": {"orient": "bottom", "values": [0,2,4,6,8,10,12], "title": "Frequency(KHz)", "labelPadding": 12, "titlePadding": 8, "labelExpr": "'' + datum.value"}},
                 "y": {"field": "m", "type": "quantitative", "scale": {"domain": [0.01, 1.15], "nice": false, "zero": false}, "axis": {"orient": "left", "values": [0.2,0.4,0.6,0.8,1], "title": "Mangitude", "titlePadding": 3, "labelExpr": "'' + datum.value"}},
                 "y2": {"datum": 0}
               }},
              {"data": {"name": "fftG"},
               "mark": {"type": "rule", "color": "black", "clip": true, "strokeWidth": 1.3},
               "encoding": {
                 "x": {"field": "f", "type": "quantitative", "axis": null},
                 "y": {"field": "m", "type": "quantitative", "axis": null},
                 "y2": {"datum": 0}
               }},
              {"data": {"values": [{}]},
               "mark": {"type": "text", "font": "Liberation Serif", "fontSize": 24, "fontWeight": "bold", "color": "black", "baseline": "middle"},
               "encoding": {
                 "x": {"datum": 1.13, "type": "quantitative", "axis": {"orient": "top", "values": [0,2,4,6,8,10,12], "labels": false, "title": null}},
                 "y": {"datum": 1.347, "type": "quantitative", "axis": {"orient": "right", "values": [0.2,0.4,0.6,0.8,1], "labels": false, "title": null}},
                 "text": {"value": "(g)"}
               }}
            ]
          }
        ]
      }
    ]
  }
]
}
